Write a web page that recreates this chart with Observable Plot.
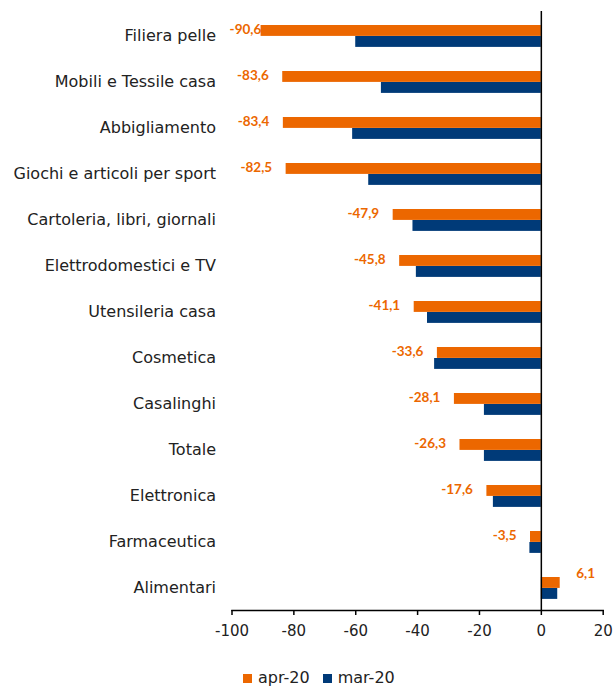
<!DOCTYPE html>
<html>
<head>
<meta charset="utf-8">
<script src="https://cdn.jsdelivr.net/npm/d3@7"></script>
<script src="https://cdn.jsdelivr.net/npm/@observablehq/plot@0.6"></script>
<style>
  html, body { margin: 0; padding: 0; background: #fff; }
  #chart { width: 615px; }
  .legend { display: flex; justify-content: flex-start; gap: 13px; padding-left: 243px; margin-top: 19px;
            font-family: "DejaVu Sans", sans-serif; font-size: 16px; color: #222; line-height: 17px; }
  .legend span.sw { display: inline-block; width: 9px; height: 9px; margin-right: 6px; }
</style>
</head>
<body>
<div id="chart"></div>
<script>
const categories = ["Filiera pelle", "Mobili e Tessile casa", "Abbigliamento", "Giochi e articoli per sport",
  "Cartoleria, libri, giornali", "Elettrodomestici e TV", "Utensileria casa", "Cosmetica",
  "Casalinghi", "Totale", "Elettronica", "Farmaceutica", "Alimentari"];
const apr20 = [-90.6, -83.6, -83.4, -82.5, -47.9, -45.8, -41.1, -33.6, -28.1, -26.3, -17.6, -3.5, 6.1];
const mar20 = [-60.0, -51.7, -61.0, -55.8, -41.5, -40.4, -36.8, -34.5, -18.4, -18.4, -15.5, -3.7, 5.3];
const xTicks = [-100, -80, -60, -40, -20, 0, 20];
const seriesNames = ["apr-20", "mar-20"];
const colors = ["#EC6700", "#003A78"];

const data = categories.map((c, i) => ({cat: c, apr: apr20[i], mar: mar20[i]}));
const fmt = v => String(v).replace(".", ",");
const font = "'DejaVu Sans', sans-serif";
const boldFont = "Lato, 'Open Sans', sans-serif";

const chart = Plot.plot({
  width: 615,
  height: 650,
  marginLeft: 231.5,
  marginRight: 12.3,
  marginTop: 11,
  marginBottom: 40,
  style: {fontFamily: font, fontSize: "15px", color: "#222", background: "#fff"},
  x: {domain: [-100, 20]},
  y: {domain: categories, padding: 0, label: null},
  marks: [
    Plot.barX(data, {y: "cat", x: "apr", fill: colors[0], insetTop: 13, insetBottom: 22.1}),
    Plot.barX(data, {y: "cat", x: "mar", fill: colors[1], insetTop: 24, insetBottom: 11.1}),
    Plot.ruleX([0], {stroke: "black", strokeWidth: 1.5}),
    Plot.frame({anchor: "bottom", stroke: "black", strokeWidth: 1.5}),
    Plot.axisX({ticks: xTicks, tickSize: 5, tickPadding: 10, tickFormat: d => String(d), fontSize: 15, stroke: "black", strokeWidth: 1.5, label: null}),
    Plot.axisY({tickSize: 0, tickPadding: 16, fontSize: 16, letterSpacing: "0.15px", label: null}),
    Plot.text(data.filter(d => d.apr < 0), {
      y: "cat", x: d => Math.max(d.apr, -86), text: d => fmt(d.apr),
      textAnchor: "end", dx: -14, dy: -5.5, fill: colors[0], fontWeight: "bold", fontSize: 13.5, fontFamily: boldFont
    }),
    Plot.text(data.filter(d => d.apr >= 0), {
      y: "cat", x: "apr", text: d => fmt(d.apr),
      textAnchor: "start", dx: 16, dy: -14, fill: colors[0], fontWeight: "bold", fontSize: 13.5, fontFamily: boldFont
    })
  ]
});
document.getElementById("chart").appendChild(chart);

const legend = document.createElement("div");
legend.className = "legend";
seriesNames.forEach((n, i) => {
  const item = document.createElement("div");
  item.innerHTML = `<span class="sw" style="background:${colors[i]}"></span>${n}`;
  legend.appendChild(item);
});
document.getElementById("chart").appendChild(legend);
</script>
</body>
</html>
